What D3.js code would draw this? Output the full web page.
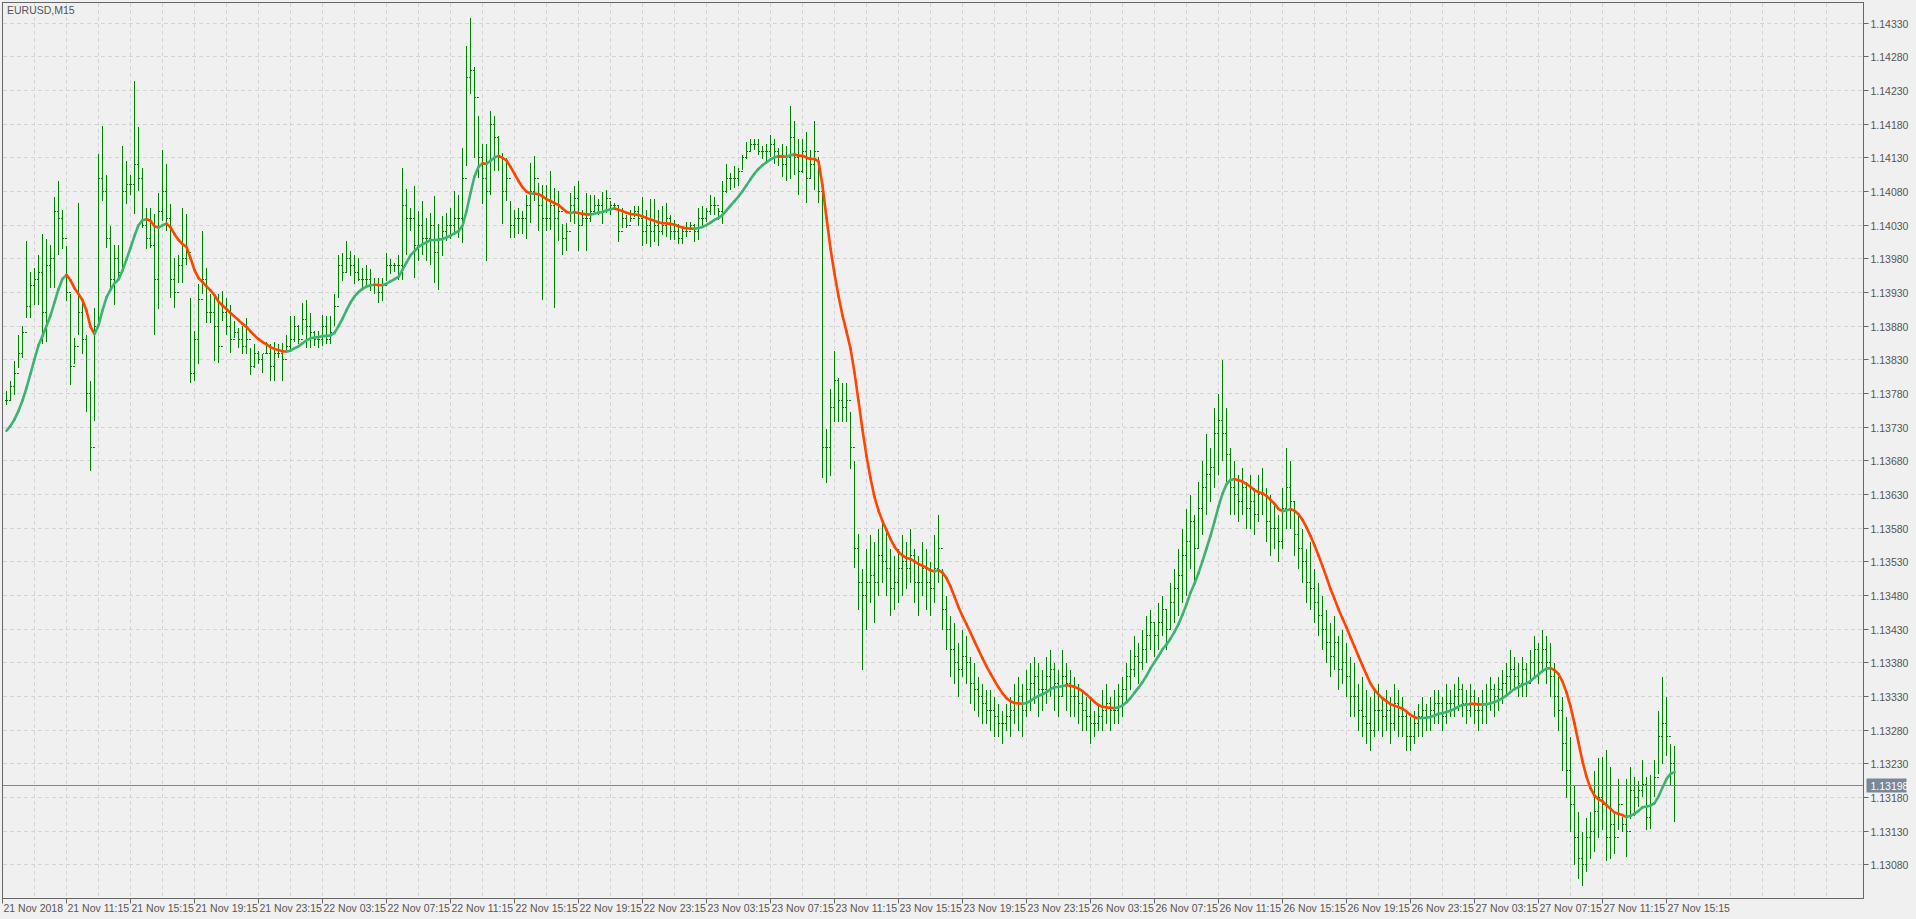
<!DOCTYPE html>
<html><head><meta charset="utf-8">
<script src="https://cdnjs.cloudflare.com/ajax/libs/d3/7.8.5/d3.min.js"></script>
<style>html,body{margin:0;padding:0;background:#f0f0f0;overflow:hidden}</style>
</head><body>
<svg id="c" width="1916" height="919"></svg>
<script>
// values in pips above 1.13000
const symbolTitle = "EURUSD,M15";
const basePrice = 1.13;
const highs = [78.4,79.9,82.9,86.8,88.1,100.7,96.2,96.7,98.7,101.7,101,100.2,107.2,109.6,105.4,100,92.8,86.3,106.4,92.3,86.8,79.9,90.8,113.6,117.8,110.6,103,100.2,100.2,114.8,112.6,110.6,124.5,117.6,111.6,105.7,105.7,104.7,107.9,114.3,112.1,106.2,98.2,98.7,105.7,104.7,92.3,87.3,94.3,102.2,96.7,92.8,92.8,92.8,93.3,92.3,91.3,88.8,87.8,88.1,89.3,84.9,85.4,84.4,83.9,85.8,85.4,85.8,85.4,85.6,86.8,
89.6,89.6,88.3,91.5,92,90.1,87.3,87.3,89.8,89.6,89.6,92.8,98.7,99,100.7,99.2,98.7,98.2,96.7,97.2,96.5,95.2,95.2,95.2,99,98,97.5,98.7,111.6,108.4,105.7,108.9,105.2,106.6,104.2,104.9,107.4,103.2,104.4,104.9,105.7,108.1,107.6,114.6,129.7,133.9,126.5,119.3,115.1,115.1,120,119.3,116.3,113.8,113.1,106.6,105.4,105.7,105.2,107.6,112.3,113.3,109.4,109.1,109.1,111.1,108.6,108.1,103.3,103.4,
107.9,108.9,109.6,105.3,107.9,107.6,107.6,106.9,108,108.3,106.6,106.3,105.9,105.6,104.6,105.3,105.9,105.9,107.3,105.3,106.9,106.9,105.3,105.9,106.3,104.6,103.9,103.3,102.6,103.6,103.6,103.3,105.6,105.9,105.6,107.6,107.3,105.6,109.6,112.2,110.9,111.9,111.6,113.5,115.5,115.9,115.9,115.9,114.9,115.2,116.5,115.9,114.5,115.2,114.9,120.8,118.5,115.9,115.9,116.9,114.2,118.5,113.2,107.9,72.8,78.7,84.4,80.4,79.7,79.7,75.4,68.1,57.2,
52,55,57,56,58,59,58,55,54,55,57,56,58,55,54,56,55,53,57,60,52,48,45,44,41,43,42,39,38,36,35,34,34,33,32,31,32,33,35,36,35,37,38,39,38,37,39,40,38,37,40,38,37,36,35,34,33,33,31,32,34,35,33,34,35,36,38,40,42,41,43,45,46,44,47,48,46,50,52,55,58,61,63,60,65,68,72,
70,76,78,83,76,70,68,66,67,65,66,64,66,67,64,63,62,60,64,70,68,62,60,58,55,56,52,50,48,46,44,45,42,43,41,39,38,35,36,34,33,34,35,33,34,33,35,34,33,31,30,31,32,33,32,33,34,34,33,35,34,35,36,35,34,35,34,33,34,35,36,35,36,37,38,40,39,38,39,38,40,42,41,43,42,41,38,36,33,30,27,20,16,13,15,16,22,24,24.1,25.1,22.6,15.7,20.9,15.2,20.9,22.6,21.1,20.6,23.6,21.1,21.4,23.6,31,36,33,26.1,25.8];
const lows = [76.4,76.9,77.9,81.9,83.4,89.3,89.3,91.3,91.3,85.4,85.8,93.8,93.8,98.7,99.5,91.8,79.4,82.4,86.8,83.9,75.4,66.5,74,87.8,106.6,99.7,93.8,91.3,94.8,96.7,106.2,107.6,104.7,108.1,102.7,99.5,99.7,86.8,90.6,103.7,102.2,92.3,90.8,94.5,94.5,97.2,79.7,79.9,82.4,92.8,88.6,88.6,82.9,82.6,88.8,86.8,84.1,86.3,84.9,83.9,83.9,80.9,81.9,82.4,81.1,83.9,79.9,79.9,83.4,79.9,84.4,
84.6,85.8,85.4,86.8,84.9,84.9,85.1,84.9,85.1,85.4,85.4,88.1,92.3,94.8,96.2,95.5,94.3,94.8,93.8,93.8,93.3,92.8,91.5,91.8,94.8,95.8,96.2,95,95,98.7,102.2,95.3,97.7,98.7,97.7,97.2,94.5,93.5,98.5,100.7,101,101.7,101.2,100.5,111.9,122.5,113.1,110.1,106.2,97.7,107.6,111.1,111.1,103.2,106.6,101.2,101.2,101.7,101.7,101,103.4,106.6,102.2,92,102.2,102.4,90.8,100.7,98.6,99.3,
103.6,103.3,99.3,102.9,99.3,103.6,104.6,104.6,103.3,104.9,104.6,105.3,100.6,102.6,102.6,103.6,104.3,102.9,100,100.3,99.8,100.6,100,101.6,101.3,100.9,100.9,100.3,100.3,101.3,102.3,100.6,100.9,102.9,103.6,104.6,104.6,103.9,103.3,107.9,108.3,108.6,108.9,111.2,112.9,113.9,114.2,113.5,112.9,112.6,113.2,112.2,111.9,110.2,109.6,109.9,110.6,107.6,110.9,106.3,109.9,108.3,106.3,65.5,64.8,65.8,73.8,73.8,73.8,73.8,66.8,52.2,45.9,
37,43,47,44,48,50,48,45,46,47,48,49,50,47,45,48,46,45,47,50,43,40,36,35,33,36,35,32,31,30,29,29,28,27,27,26,28,27,29,28,27,30,31,32,30,31,32,33,31,30,33,31,30,30,29,28,28,26,27,28,28,29,28,29,29,30,32,34,36,35,37,38,40,39,40,42,40,43,44,45,47,48,52,50,55,57,60,
62,64,66,68,65,60,60,59,60,58,58,57,59,60,56,54,55,53,55,58,58,54,52,50,47,46,44,42,40,38,36,37,34,35,33,30,30,28,27,26,25,27,28,27,28,26,28,27,27,25,25,26,27,27,28,28,29,29,28,29,30,30,31,30,29,30,29,28,29,29,31,30,31,32,33,34,34,33,33,33,35,36,35,37,35,33,30,28,22,18,13,8,6,5,7,9,10,12,13.2,8.7,9,9.7,13.2,12.9,9.2,14.9,15.4,16.7,18.2,13.2,13.4,18.2,21.6,23,24.3,20,14.4];
const closes = [77,79,81,84,87,91,94,95,96,90,97,98,105,104,101,93,82,85,90,86,78,70,88,110,108,101,95,98,96,108,109,109,112,110,103,101,100,95,105,108,104,95,93,97,98,99,81,86,92,95,90,90,88,85,90,88,86,87,86,85,86,82,84,83,84,84,82,84,84,83,85,
86,88,86,89,88,87,86,86,88,86,87,91,97,96,98,97,96,95,95,95,94,94,93,94,97,97,97,97,106,104,104,100,103,101,101,103,99,101,102,103,103,104,104,110,125,126,122,113,110,108,118,116,113,108,110,103,104,104,104,106,108,110,106,104,104,106,104,105,101,102,
106,107,103,104,104,105,106,106,105,107,106,106,102,104,103,104,105,104,102,103,102,103,102,103,104,102,102,101,102,102,103,102,104,104,105,106,106,105,108,110,110,110,111,113,114,115,115,114,114,114,115,114,113,112,113,116,113,111,114,110,112,114,108,70,70,76,80,77,76,77,70,55,50,
48,50,51,50,54,53,52,49,50,52,53,52,54,50,50,52,50,49,52,55,46,43,40,38,37,39,38,35,34,33,32,31,31,30,29,29,30,31,32,33,31,34,35,36,34,34,36,37,35,33,36,35,33,33,32,31,30,29,29,30,31,32,31,31,33,34,36,37,39,38,40,42,44,42,44,46,43,47,49,51,54,56,59,55,61,64,66,
67,72,74,72,69,64,63,62,64,61,62,60,63,63,59,58,58,56,61,64,62,57,55,53,50,49,47,45,43,41,39,41,37,38,36,33,33,31,30,29,28,31,31,30,31,29,32,30,30,27,27,29,30,31,30,31,32,32,30,32,32,33,34,32,31,33,31,31,32,32,34,33,34,35,36,37,36,35,37,35,38,40,38,40,38,36,33,31,26,22,17,12,9,8,12,13,16,18,17,12,14,12,17,14,13,19,18,19,20,15,17,21,27,29,27,23,19.8];
const priceTicks = ["1.14330","1.14280","1.14230","1.14180","1.14130","1.14080","1.14030","1.13980","1.13930","1.13880","1.13830","1.13780","1.13730","1.13680","1.13630","1.13580","1.13530","1.13480","1.13430","1.13380","1.13330","1.13280","1.13230","1.13180","1.13130","1.13080"];
const timeLabels = ["21 Nov 2018","21 Nov 11:15","21 Nov 15:15","21 Nov 19:15","21 Nov 23:15","22 Nov 03:15","22 Nov 07:15","22 Nov 11:15","22 Nov 15:15","22 Nov 19:15","22 Nov 23:15","23 Nov 03:15","23 Nov 07:15","23 Nov 11:15","23 Nov 15:15","23 Nov 19:15","23 Nov 23:15","26 Nov 03:15","26 Nov 07:15","26 Nov 11:15","26 Nov 15:15","26 Nov 19:15","26 Nov 23:15","27 Nov 03:15","27 Nov 07:15","27 Nov 11:15","27 Nov 15:15"];
const timeLabelBars = [-1,15,31,47,63,79,95,111,127,143,159,175,191,207,223,239,255,271,287,303,319,335,351,367,383,399,415];
const currentPrice = 1.13198;
const maStart = 72;

const N = closes.length;
const P = v => basePrice + v/10000;
const L = 2.5, R = 1863.5, T = 2.5, B = 898.5;
const x = d3.scaleLinear().domain([0, 417]).range([6.5, 1674.5]);
const y = d3.scaleLinear().domain([1.130294, 1.1436]).range([B, T]);
const svg = d3.select("#c");
const font = "'Liberation Sans', Arial, sans-serif";

const g = svg.append("g").attr("shape-rendering","crispEdges");
svg.append("clipPath").attr("id","pc").append("rect").attr("x",L).attr("y",T).attr("width",R-L).attr("height",B-T);
const vg = d3.range(-1, 460, 8).map(i => x(i)).filter(v => v > L+1 && v < R-1);
g.selectAll(".vg").data(vg).enter().append("line").attr("x1",d=>d).attr("x2",d=>d).attr("y1",T).attr("y2",B)
 .attr("stroke","#d4d4d4").attr("stroke-dasharray","4,3");
g.selectAll(".hg").data(priceTicks).enter().append("line").attr("x1",L).attr("x2",R)
 .attr("y1",d=>Math.round(y(+d))+0.5).attr("y2",d=>Math.round(y(+d))+0.5)
 .attr("stroke","#d4d4d4").attr("stroke-dasharray","4,3");

const bars = svg.append("g").attr("clip-path","url(#pc)").attr("shape-rendering","crispEdges");
const bc = "#008000";
const ry = v => Math.round(y(P(v)))+0.5;
for (let i = 0; i < N; i++) {
  const xi = x(i), o = i > 0 ? closes[i-1] : closes[i];
  bars.append("line").attr("x1",xi).attr("x2",xi).attr("y1",ry(highs[i])).attr("y2",ry(lows[i])).attr("stroke",bc).attr("stroke-width",1);
  bars.append("line").attr("x1",xi-1.5).attr("x2",xi).attr("y1",ry(o)).attr("y2",ry(o)).attr("stroke",bc).attr("stroke-width",1);
  bars.append("line").attr("x1",xi).attr("x2",xi+1.5).attr("y1",ry(closes[i])).attr("y2",ry(closes[i])).attr("stroke",bc).attr("stroke-width",1);
}
// MA (double EMA of closes)
const maG = svg.append("g").attr("clip-path","url(#pc)");
let e1 = maStart, e2 = maStart; const ma = [];
for (let i = 0; i < N; i++) { e1 += (closes[i]-e1)*2/10; e2 += (e1-e2)*2/5; ma.push(e2); }
for (let i = 1; i < N; i++) {
  maG.append("line").attr("x1",x(i-1)).attr("x2",x(i)).attr("y1",y(P(ma[i-1]))).attr("y2",y(P(ma[i])))
   .attr("stroke", ma[i] < ma[i-1] ? "#FF4500" : "#3CB371").attr("stroke-width",2.6).attr("stroke-linecap","round");
}
const cy = Math.round(y(currentPrice))+0.5;
svg.append("line").attr("x1",L).attr("x2",R).attr("y1",cy).attr("y2",cy).attr("stroke","#778899").attr("stroke-width",1).attr("shape-rendering","crispEdges");

svg.append("rect").attr("x",L).attr("y",T).attr("width",R-L).attr("height",B-T).attr("fill","none").attr("stroke","#666").attr("stroke-width",1).attr("shape-rendering","crispEdges");

const ax = svg.append("g");
priceTicks.forEach(t => {
  const ty = Math.round(y(+t))+0.5;
  ax.append("line").attr("x1",R).attr("x2",R+5).attr("y1",ty).attr("y2",ty).attr("stroke","#666");
  ax.append("text").attr("x",R+7).attr("y",ty+4).text(t).attr("font-family",font).attr("font-size",10.5).attr("fill","#555");
});
ax.append("rect").attr("x",R+3).attr("y",cy-7).attr("width",40).attr("height",14).attr("fill","#778899");
ax.append("text").attr("x",R+7).attr("y",cy+4).text(currentPrice.toFixed(5)).attr("font-family",font).attr("font-size",10.5).attr("fill","#fff");

timeLabels.forEach((t,k) => {
  const tx = k === 0 ? L : x(timeLabelBars[k]);
  ax.append("line").attr("x1",tx).attr("x2",tx).attr("y1",B).attr("y2",B+5).attr("stroke","#666");
  ax.append("text").attr("x",tx+1).attr("y",B+13).text(t).attr("font-family",font).attr("font-size",10.5).attr("fill","#555");
});
svg.append("text").attr("x",7).attr("y",14).text(symbolTitle).attr("font-family",font).attr("font-size",10.5).attr("fill","#555");
</script>
</body></html>
